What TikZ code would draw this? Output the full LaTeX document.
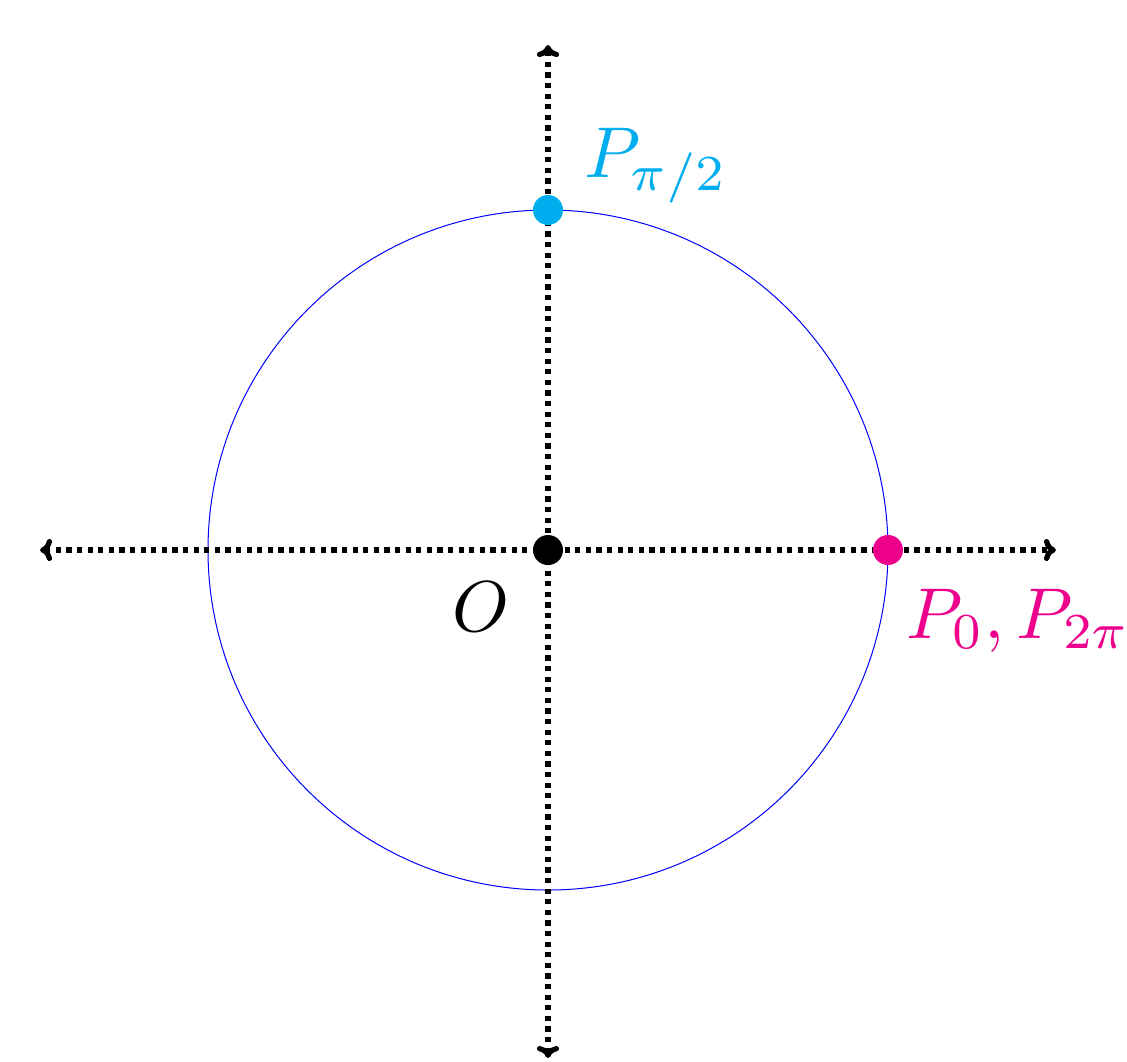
\documentclass[tikz,border=0pt]{standalone}
\usepackage{graphicx}
\usetikzlibrary{arrows.meta}
\definecolor{ptcyan}{RGB}{0,174,239}
\definecolor{ptmagenta}{RGB}{236,0,140}
\newcommand{\biglbl}[1]{\scalebox{3.6}{\normalsize$#1$}}
\begin{document}
\begin{tikzpicture}[x=0.5pt,y=-0.5pt,
  axis/.style={line width=2.6pt, dash pattern=on 2.6pt off 2.7pt, line cap=butt,
    {Computer Modern Rightarrow[length=6pt,width=11pt,line width=2.6pt]}-{Computer Modern Rightarrow[length=6pt,width=11pt,line width=2.6pt]}},
  pt/.style={circle, inner sep=0pt, minimum size=15pt},
  lbl/.style={inner sep=0pt}]
\useasboundingbox (0,0) rectangle (1127,1061);
\coordinate (O) at (548,550);
\coordinate (L) at (40,550);
\coordinate (R) at (1056,550);
\coordinate (T) at (548,45);
\coordinate (B) at (548,1058);
\draw[blue, line width=0.5pt] (O) circle[radius=170pt];
\draw[axis] (L) -- (R);
\draw[axis] (B) -- (T);
\node[pt, fill=black] (o) at (O) {};
\node[pt, fill=ptcyan] (p2) at (548,210) {};
\node[pt, fill=ptmagenta] (p0) at (888,550) {};
\node[lbl, anchor=base] (ol) at (481,631) {\biglbl{O}};
\node[lbl, anchor=base west, text=ptcyan] (p2l) at (584,177) {\biglbl{P_{\pi/2}}};
\node[lbl, anchor=base west, text=ptmagenta] (p0l) at (906,638) {\biglbl{P_0, P_{2\pi}}};
\end{tikzpicture}
\end{document}
